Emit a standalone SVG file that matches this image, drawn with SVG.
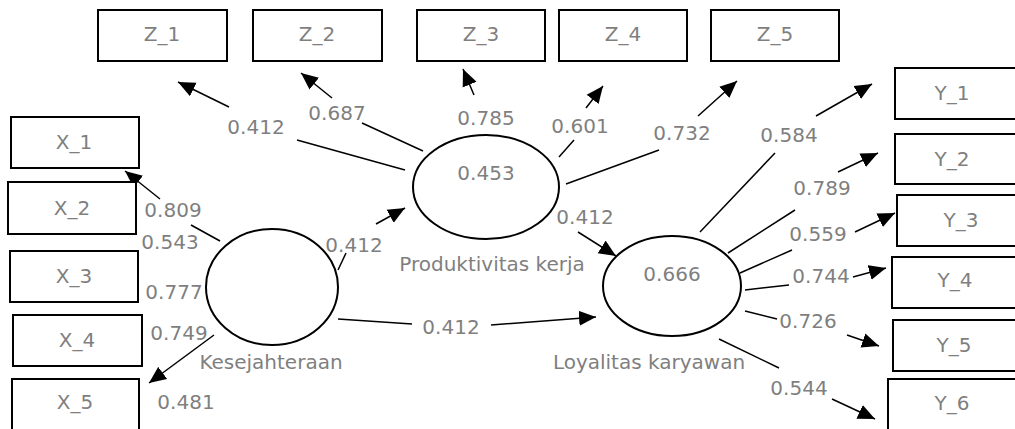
<svg xmlns="http://www.w3.org/2000/svg" width="1015" height="429" viewBox="0 0 1015 429">
  <defs>
    <style>
      .box { fill: #fff; stroke: #000; stroke-width: 2; }
      .lv { fill: #fff; stroke: #000; stroke-width: 2; }
      .t { font-family: "DejaVu Sans", Verdana, sans-serif; font-size: 20px; fill: #7f7f7f; text-anchor: middle; }
      .ln { stroke: #000; stroke-width: 1.5; fill: none; }
      .ar { stroke: #000; stroke-width: 1.5; fill: none; marker-end: url(#head); }
    </style>
    <marker id="head" markerUnits="userSpaceOnUse" markerWidth="18" markerHeight="16" refX="17" refY="8" orient="auto">
      <path d="M0,0.5 L17,8 L0,15.5 z" fill="#000"/>
    </marker>
  </defs>
  <rect width="1015" height="429" fill="#fff"/>

  <!-- connectors -->
  <g id="connectors">
    <line class="ln" x1="405" y1="170" x2="297" y2="140"/>
    <line class="ar" x1="229" y1="107" x2="178" y2="82"/>
    <line class="ln" x1="423" y1="151" x2="362" y2="123"/>
    <line class="ar" x1="332" y1="98" x2="301" y2="73"/>
    <line class="ar" x1="474" y1="95" x2="463" y2="69"/>
    <line class="ln" x1="559" y1="157" x2="574" y2="140"/>
    <line class="ar" x1="586" y1="108" x2="603" y2="86"/>
    <line class="ln" x1="566" y1="184" x2="659" y2="150"/>
    <line class="ar" x1="698" y1="116" x2="737" y2="81"/>
    <line class="ln" x1="700" y1="232" x2="775" y2="153"/>
    <line class="ar" x1="816" y1="116" x2="872" y2="84"/>
    <line class="ln" x1="728" y1="253" x2="795" y2="210"/>
    <line class="ar" x1="838" y1="172" x2="878" y2="153"/>
    <line class="ln" x1="740" y1="273" x2="792" y2="250"/>
    <line class="ar" x1="855" y1="232" x2="895" y2="213"/>
    <line class="ln" x1="745" y1="290" x2="789" y2="285"/>
    <line class="ar" x1="853" y1="277" x2="886" y2="268"/>
    <line class="ln" x1="745" y1="311" x2="777" y2="319"/>
    <line class="ar" x1="847" y1="335" x2="879" y2="346"/>
    <line class="ln" x1="719" y1="339" x2="779" y2="368"/>
    <line class="ar" x1="832" y1="399" x2="875" y2="419"/>
    <line class="ln" x1="220" y1="241" x2="191" y2="225"/>
    <line class="ar" x1="160" y1="199" x2="125" y2="171"/>
    <line class="ar" x1="214" y1="335" x2="149" y2="383"/>
    <line class="ln" x1="338" y1="270" x2="346" y2="253"/>
    <line class="ar" x1="376" y1="224" x2="405" y2="208"/>
    <line class="ln" x1="338" y1="319" x2="412" y2="324"/>
    <line class="ar" x1="491" y1="325" x2="596" y2="317"/>
    <line class="ar" x1="578" y1="232" x2="616" y2="256"/>
  </g>

  <!-- indicators of Produktivitas kerja -->
  <g id="Z_1"><rect class="box" x="98" y="10" width="129" height="51"/><text class="t" x="162" y="41">Z_1</text></g>
  <g id="Z_2"><rect class="box" x="253" y="10" width="129" height="51"/><text class="t" x="317" y="41">Z_2</text></g>
  <g id="Z_3"><rect class="box" x="417" y="10" width="128" height="51"/><text class="t" x="481" y="41">Z_3</text></g>
  <g id="Z_4"><rect class="box" x="559" y="10" width="128" height="51"/><text class="t" x="623" y="41">Z_4</text></g>
  <g id="Z_5"><rect class="box" x="711" y="10" width="128" height="51"/><text class="t" x="775" y="41">Z_5</text></g>

  <!-- indicators of Kesejahteraan -->
  <g id="X_1"><rect class="box" x="11" y="117" width="128" height="51"/><text class="t" x="74" y="149">X_1</text></g>
  <g id="X_2"><rect class="box" x="8" y="182" width="128" height="52"/><text class="t" x="72" y="215">X_2</text></g>
  <g id="X_3"><rect class="box" x="10" y="251" width="128" height="51"/><text class="t" x="74" y="283">X_3</text></g>
  <g id="X_4"><rect class="box" x="13" y="315" width="129" height="51"/><text class="t" x="77" y="347">X_4</text></g>
  <g id="X_5"><rect class="box" x="12" y="379" width="127" height="54"/><text class="t" x="75" y="409">X_5</text></g>

  <!-- indicators of Loyalitas karyawan -->
  <g id="Y_1"><rect class="box" x="895" y="68" width="130" height="51"/><text class="t" x="952" y="100">Y_1</text></g>
  <g id="Y_2"><rect class="box" x="895" y="134" width="130" height="50"/><text class="t" x="952" y="166">Y_2</text></g>
  <g id="Y_3"><rect class="box" x="897" y="195" width="130" height="51"/><text class="t" x="961" y="227">Y_3</text></g>
  <g id="Y_4"><rect class="box" x="892" y="257" width="130" height="51"/><text class="t" x="955" y="287">Y_4</text></g>
  <g id="Y_5"><rect class="box" x="893" y="320" width="130" height="51"/><text class="t" x="954" y="352">Y_5</text></g>
  <g id="Y_6"><rect class="box" x="888" y="379" width="135" height="54"/><text class="t" x="952" y="410">Y_6</text></g>

  <!-- latent variables -->
  <g id="Kesejahteraan">
    <ellipse class="lv" cx="272" cy="287" rx="66" ry="58"/>
    <text class="t" x="271" y="369">Kesejahteraan</text>
  </g>
  <g id="Produktivitas_kerja">
    <ellipse class="lv" cx="486" cy="187" rx="73" ry="52"/>
    <text class="t" x="486" y="180">0.453</text>
    <text class="t" x="492" y="271">Produktivitas kerja</text>
  </g>
  <g id="Loyalitas_karyawan">
    <ellipse class="lv" cx="672" cy="286" rx="69" ry="50"/>
    <text class="t" x="672" y="281">0.666</text>
    <text class="t" x="649" y="369">Loyalitas karyawan</text>
  </g>

  <!-- path coefficients and loadings -->
  <g id="labels">
    <text class="t" x="256" y="134">0.412</text>
    <text class="t" x="337" y="120">0.687</text>
    <text class="t" x="486" y="125">0.785</text>
    <text class="t" x="580" y="133">0.601</text>
    <text class="t" x="682" y="140">0.732</text>
    <text class="t" x="789" y="142">0.584</text>
    <text class="t" x="173" y="217">0.809</text>
    <text class="t" x="170" y="249">0.543</text>
    <text class="t" x="354" y="252">0.412</text>
    <text class="t" x="174" y="299">0.777</text>
    <text class="t" x="179" y="340">0.749</text>
    <text class="t" x="186" y="409">0.481</text>
    <text class="t" x="585" y="224">0.412</text>
    <text class="t" x="451" y="334">0.412</text>
    <text class="t" x="822" y="195">0.789</text>
    <text class="t" x="818" y="241">0.559</text>
    <text class="t" x="821" y="283">0.744</text>
    <text class="t" x="808" y="328">0.726</text>
    <text class="t" x="799" y="395">0.544</text>
  </g>
</svg>
